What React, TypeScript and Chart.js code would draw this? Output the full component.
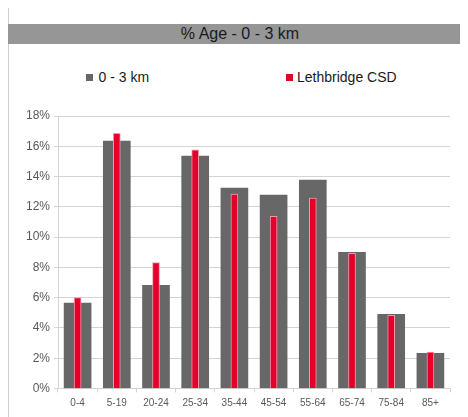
import React, { useEffect, useRef } from "react";
import { Chart, registerables } from "chart.js";

Chart.register(...registerables);

const categories = ["0-4", "5-19", "20-24", "25-34", "35-44", "45-54", "55-64", "65-74", "75-84", "85+"];
const area03 = [5.65, 16.35, 6.82, 15.35, 13.24, 12.77, 13.77, 9.0, 4.9, 2.32];
const lethbridge = [6.0, 16.85, 8.32, 15.77, 12.84, 11.38, 12.57, 8.93, 4.83, 2.4];
const seriesNames = ["0 - 3 km", "Lethbridge CSD"];
const titleText = "% Age - 0 - 3 km";

const GRAY = "#676767";
const RED = "#e4002b";
const FONT = "'Liberation Sans', Arial, sans-serif";

export default function App() {
  const ref = useRef<HTMLCanvasElement | null>(null);

  useEffect(() => {
    if (!ref.current) return;
    const chart = new Chart(ref.current, {
      type: "bar",
      data: {
        labels: categories,
        datasets: [
          {
            label: seriesNames[1],
            data: lethbridge,
            backgroundColor: RED,
            borderColor: "#f49aac",
            borderWidth: 1,
            barThickness: 7,
            grouped: false,
            order: 0,
          } as any,
          {
            label: seriesNames[0],
            data: area03,
            backgroundColor: GRAY,
            borderWidth: 0,
            barThickness: 27,
            grouped: false,
            order: 1,
          } as any,
        ],
      },
      options: {
        responsive: false,
        animation: false,
        devicePixelRatio: 1,
        layout: { padding: { top: 16, right: 18, bottom: 0, left: 0 } },
        plugins: { legend: { display: false }, tooltip: { enabled: false }, title: { display: false } },
        scales: {
          x: {
            grid: { drawOnChartArea: false, drawTicks: true, tickLength: 4, tickColor: "#d4d4d4", offset: true },
            border: { display: true, color: "#d4d4d4", width: 1 },
            ticks: { color: "#595959", font: { family: FONT, size: 10 }, padding: 5, maxRotation: 0, autoSkip: false },
            afterFit: (s: any) => { s.height = 28.5; },
          } as any,
          y: {
            min: 0,
            max: 18,
            ticks: {
              stepSize: 2,
              color: "#595959",
              font: { family: FONT, size: 12 },
              padding: 4,
              callback: (v: any) => v + "%",
            },
            grid: { color: "#d4d4d4", lineWidth: 1, tickLength: 4, tickColor: "#d4d4d4" },
            border: { display: true, color: "#d4d4d4", width: 1 },
            afterFit: (s: any) => { s.width = 50; },
          } as any,
        },
      },
    });
    return () => chart.destroy();
  }, []);

  return (
    <div style={{ position: "relative", width: 460, height: 409, fontFamily: FONT }}>
      <div style={{ position: "absolute", left: -1, top: -8, width: 1.5, height: 417, background: "#cfcfcf" }} />
      <div
        style={{
          position: "absolute",
          left: 0,
          top: 16,
          width: 460,
          height: 20,
          background: "#969696",
          color: "#1a1a1a",
          fontSize: 16,
          lineHeight: "20px",
          textAlign: "center",
          paddingLeft: 4,
          boxSizing: "border-box",
        }}
      >
        {titleText}
      </div>
      <div style={{ position: "absolute", left: 78, top: 66, width: 7, height: 7, background: GRAY }} />
      <div style={{ position: "absolute", left: 90.5, top: 61, fontSize: 14, lineHeight: "16px", color: "#1a1a1a", whiteSpace: "nowrap" }}>
        {seriesNames[0]}
      </div>
      <div style={{ position: "absolute", left: 278, top: 66, width: 7, height: 7, background: RED }} />
      <div style={{ position: "absolute", left: 289, top: 61, fontSize: 14, lineHeight: "16px", color: "#1a1a1a", whiteSpace: "nowrap" }}>
        {seriesNames[1]}
      </div>
      <canvas ref={ref} width={460} height={317} style={{ position: "absolute", left: 0, top: 92, width: 460, height: 317 }} />
    </div>
  );
}
